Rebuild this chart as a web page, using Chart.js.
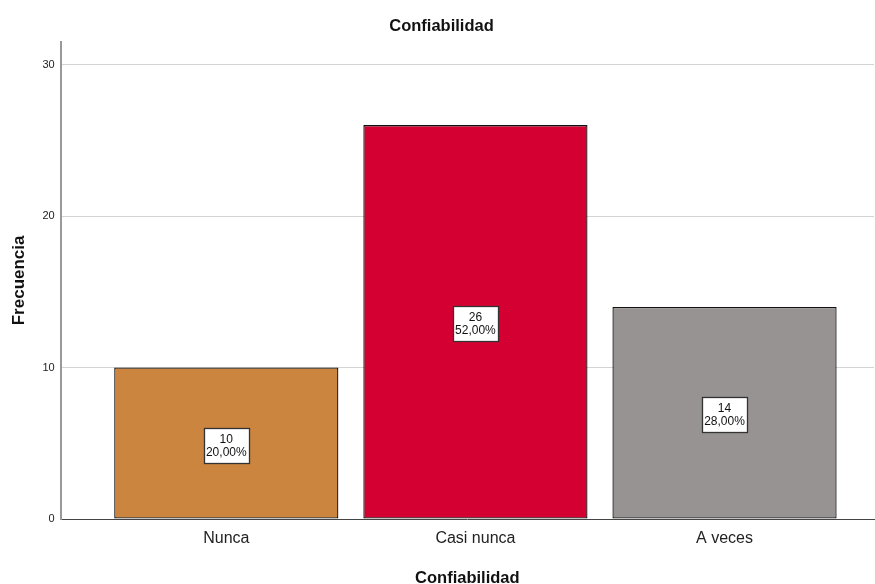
<!DOCTYPE html>
<html>
<head>
<meta charset="utf-8">
<script src="https://cdn.jsdelivr.net/npm/chart.js@4"></script>
<style>
  html, body { margin: 0; padding: 0; background: #fff; }
  #wrap { width: 875px; height: 584px; }
</style>
</head>
<body>
<div id="wrap"><canvas id="chart"></canvas></div>
<script>
const categories = ['Nunca', 'Casi nunca', 'A veces'];
const counts = [10, 26, 14];
const percents = ['20,00%', '52,00%', '28,00%'];
const barColors = ['#cc853f', '#d50032', '#979392'];
const yTicks = [0, 10, 20, 30];

// white boxes with count and percent in the middle of each bar
const valueBoxes = {
    id: 'valueBoxes',
    afterDatasetsDraw(chart) {
        const ctx = chart.ctx;
        const meta = chart.getDatasetMeta(0);
        ctx.save();
        ctx.font = '12px "Liberation Sans", Arial, sans-serif';
        ctx.textAlign = 'center';
        ctx.textBaseline = 'middle';
        meta.data.forEach((bar, i) => {
            const cy = (bar.y + bar.base) / 2 + 2;
            const lines = [String(counts[i]), percents[i]];
            const w = Math.ceil(Math.max(...lines.map(t => ctx.measureText(t).width))) + 4;
            const h = 35;
            const x0 = Math.round(bar.x - w / 2) + 0.5;
            const y0 = Math.round(cy - h / 2) + 0.5;
            ctx.fillStyle = '#fff';
            ctx.fillRect(x0, y0, w, h);
            ctx.strokeStyle = '#333';
            ctx.lineWidth = 1.3;
            ctx.strokeRect(x0, y0, w, h);
            ctx.fillStyle = '#111';
            ctx.fillText(lines[0], bar.x, y0 + 11);
            ctx.fillText(lines[1], bar.x, y0 + 24);
        });
        ctx.restore();
    }
};

new Chart(document.getElementById('chart'), {
    type: 'bar',
    data: {
        datasets: [{
            data: categories.map((c, i) => ({ x: i, y: counts[i] })),
            backgroundColor: barColors,
            borderColor: '#111',
            borderWidth: 1.3,
            borderSkipped: false,
            barPercentage: 0.9,
            categoryPercentage: 1
        }]
    },
    options: {
        responsive: true,
        maintainAspectRatio: false,
        animation: false,
        layout: { padding: { top: 8, right: 1, left: 9, bottom: 0 } },
        plugins: {
            legend: { display: false },
            tooltip: { enabled: false },
            title: {
                display: true,
                text: 'Confiabilidad',
                color: '#111',
                font: { family: '"Liberation Sans", Arial, sans-serif', size: 16.5, weight: 'bold' },
                padding: { top: 9, bottom: 5 }
            }
        },
        scales: {
            x: {
                type: 'linear',
                offset: false,
                min: -0.665,
                max: 2.6,
                afterBuildTicks: axis => { axis.ticks = categories.map((c, i) => ({ value: i })); },
                grid: { display: false, drawTicks: false },
                border: { color: '#444', width: 1 },
                ticks: {
                    callback: v => categories[v],
                    color: '#222',
                    padding: 10,
                    font: { family: '"Liberation Sans", Arial, sans-serif', size: 16 }
                },
                title: {
                    display: true,
                    text: 'Confiabilidad',
                    color: '#111',
                    font: { family: '"Liberation Sans", Arial, sans-serif', size: 16.5, weight: 'bold' },
                    padding: { top: 10, bottom: -4 }
                }
            },
            y: {
                min: 0,
                max: 31.5,
                afterBuildTicks: axis => { axis.ticks = yTicks.map(v => ({ value: v })); },
                grid: {
                    color: c => c.tick && c.tick.value === 0 ? 'rgba(0,0,0,0)' : '#d4d4d4',
                    drawTicks: false
                },
                border: { color: '#999', width: 2 },
                ticks: {
                    color: '#222',
                    padding: 6,
                    font: { family: '"Liberation Sans", Arial, sans-serif', size: 11 }
                },
                title: {
                    display: true,
                    text: 'Frecuencia',
                    color: '#111',
                    font: { family: '"Liberation Sans", Arial, sans-serif', size: 17, weight: 'bold' },
                    padding: { top: 0, bottom: 7 }
                }
            }
        }
    },
    plugins: [valueBoxes]
});
</script>
</body>
</html>
